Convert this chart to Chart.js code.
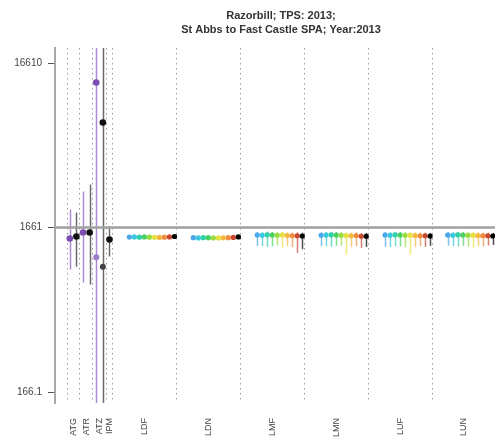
<!DOCTYPE html>
<html><head><meta charset="utf-8">
<script src="https://cdn.jsdelivr.net/npm/chart.js@4.4.0/dist/chart.umd.min.js"></script>
<style>html,body{margin:0;padding:0;background:#fff;overflow:hidden}canvas{display:block}</style>
</head><body>
<canvas id="c" width="499" height="443"></canvas>
<script>
// ---------------- DATA ----------------
const titleLines = ['Razorbill; TPS: 2013;', 'St Abbs to Fast Castle SPA; Year:2013'];
const categories = ['ATG','ATR','ATZ','IPM','LDF','LDN','LMF','LMN','LUF','LUN'];
const yTickValues = [166.1, 1661, 16610];
const referenceValue = 1661;

// single-model estimates (ATG..IPM)
const leftCategory = ['ATG','ATG','ATR','ATR','ATZ','ATZ','IPM'];
const leftModel    = ['purple','black','purple','black','purple','black','black'];
const leftValue    = [1424, 1465, 1548, 1548, 12640, 7220, 1404];
const leftLower    = [922, 960, 769, 748, 100, 100, 1107];
const leftUpper    = [2136, 2050, 2749, 3031, 30000, 30000, 1684];
const leftSecond   = [null, null, null, null, 1097, 960, null];

// multi-model estimates (10 models each)
const ldfValue = [1452, 1455, 1450, 1455, 1450, 1448, 1446, 1450, 1455, 1465];
const ldfLower = [1430, 1432, 1428, 1432, 1428, 1425, 1424, 1428, 1432, 1440];
const ldfUpper = [1475, 1478, 1472, 1478, 1472, 1470, 1468, 1472, 1478, 1490];
const ldnValue = [1440, 1436, 1440, 1440, 1436, 1435, 1438, 1440, 1445, 1455];
const ldnLower = [1418, 1414, 1418, 1418, 1414, 1413, 1416, 1418, 1422, 1432];
const ldnUpper = [1462, 1458, 1462, 1462, 1458, 1457, 1460, 1462, 1468, 1478];
const lmfValue = [1495, 1490, 1500, 1495, 1490, 1495, 1485, 1480, 1480, 1475];
const lmfLower = [1285, 1280, 1265, 1275, 1290, 1250, 1280, 1260, 1165, 1225];
const lmfUpper = [1560, 1555, 1570, 1560, 1555, 1560, 1550, 1545, 1550, 1545];
const lmnValue = [1490, 1495, 1500, 1495, 1490, 1485, 1480, 1485, 1470, 1470];
const lmnLower = [1280, 1275, 1270, 1285, 1290, 1140, 1265, 1280, 1250, 1265];
const lmnUpper = [1555, 1560, 1565, 1560, 1555, 1550, 1545, 1550, 1540, 1540];
const lufValue = [1495, 1490, 1500, 1495, 1490, 1490, 1485, 1480, 1480, 1475];
const lufLower = [1270, 1260, 1280, 1275, 1255, 1140, 1265, 1280, 1265, 1285];
const lufUpper = [1560, 1555, 1565, 1560, 1555, 1555, 1550, 1545, 1545, 1540];
const lunValue = [1495, 1490, 1500, 1495, 1490, 1490, 1485, 1480, 1480, 1475];
const lunLower = [1290, 1280, 1275, 1285, 1270, 1250, 1280, 1275, 1290, 1300];
const lunUpper = [1560, 1555, 1565, 1560, 1555, 1555, 1550, 1545, 1545, 1540];

// ---------------- STYLE / LAYOUT ----------------
const modelColors = ['#4aa8e8','#38c8e0','#30d0a8','#48d060','#98dc40','#e8e040','#f4b840','#f08c40','#c84830','#000000'];
const leftPointColor = {purple:'#7c4db0', black:'#111111'};
const leftBarColor   = {purple:'#a98bd6', black:'#6a6a6a'};
const leftSecondColor= {purple:'#9a7cc8', black:'#444444'};

const X_MAX = 68.5;
const leftStart = 2.3, leftStep = 1.03;
const groupStart = 9.0, groupWidth = 9.95, modelStep = 0.78, lastOffset = 0.35;

const multiGroups = [
  {name:'LDF', val:ldfValue, lo:ldfLower, hi:ldfUpper},
  {name:'LDN', val:ldnValue, lo:ldnLower, hi:ldnUpper},
  {name:'LMF', val:lmfValue, lo:lmfLower, hi:lmfUpper},
  {name:'LMN', val:lmnValue, lo:lmnLower, hi:lmnUpper},
  {name:'LUF', val:lufValue, lo:lufLower, hi:lufUpper},
  {name:'LUN', val:lunValue, lo:lunLower, hi:lunUpper}
];

const leftX = leftValue.map((_, i) => leftStart + i * leftStep);
const groupRight = g => Math.min(groupStart + groupWidth * (g + 1), X_MAX);
const modelX = (g, i) => groupRight(g) - lastOffset - modelStep * (9 - i);

// boundaries between categories
const leftCats = ['ATG','ATR','ATZ','IPM'];
const boundaries = [leftX[0] - 0.4];
leftCats.forEach((c) => {
  const idx = leftCategory.map((cc, i) => cc === c ? i : -1).filter(i => i >= 0);
  const last = idx[idx.length - 1];
  if (last + 1 < leftX.length) boundaries.push((leftX[last] + leftX[last + 1]) / 2);
});
boundaries.push(groupStart);
for (let g = 0; g < multiGroups.length - 1; g++) boundaries.push(groupRight(g));
const allEdges = boundaries.concat([X_MAX]);
const labelX = categories.map((c, k) => (allEdges[k] + allEdges[k + 1]) / 2);

// points
const leftPts = leftValue.map((v, i) => ({x: leftX[i], y: v}));
const leftSecondPts = [];
const leftSecondCols = [];
leftSecond.forEach((v, i) => { if (v !== null) { leftSecondPts.push({x: leftX[i], y: v}); leftSecondCols.push(leftSecondColor[leftModel[i]]); } });
const groupPts = [], groupCols = [];
multiGroups.forEach((g, gi) => g.val.forEach((v, i) => { groupPts.push({x: modelX(gi, i), y: v}); groupCols.push(modelColors[i]); }));

function hexA(hex, a) {
  const n = parseInt(hex.slice(1), 16);
  return `rgba(${(n>>16)&255},${(n>>8)&255},${n&255},${a})`;
}

const decor = {
  id: 'decor',
  beforeDatasetsDraw(chart) {
    const {ctx, chartArea: ca, scales: {x, y}} = chart;
    ctx.save();
    ctx.beginPath(); ctx.rect(ca.left, ca.top, ca.right - ca.left, ca.bottom - ca.top); ctx.clip();
    const bar = (xv, lo, hi, col, w) => {
      const px = Math.round(x.getPixelForValue(xv)) + 0.5;
      ctx.strokeStyle = col; ctx.lineWidth = w;
      ctx.beginPath(); ctx.moveTo(px, y.getPixelForValue(lo)); ctx.lineTo(px, y.getPixelForValue(hi)); ctx.stroke();
    };
    leftValue.forEach((v, i) => bar(leftX[i], leftLower[i], leftUpper[i], leftBarColor[leftModel[i]], 1.5));
    multiGroups.forEach((g, gi) => g.val.forEach((v, i) => bar(modelX(gi, i), g.lo[i], g.hi[i], hexA(modelColors[i], 0.7), 1.5)));
    ctx.restore();
  },
  afterDraw(chart) {
    const {ctx, chartArea: ca, scales: {x}} = chart;
    ctx.save();
    ctx.fillStyle = '#333';
    ctx.font = 'bold 11px "Liberation Sans", Arial, sans-serif';
    ctx.textAlign = 'center'; ctx.textBaseline = 'middle';
    const cx = (ca.left + ca.right) / 2 + 6;
    ctx.fillText(titleLines[0], cx, 16);
    ctx.fillText(titleLines[1], cx, 30);
    ctx.fillStyle = '#444';
    ctx.font = '9px "Liberation Sans", Arial, sans-serif';
    ctx.textAlign = 'right'; ctx.textBaseline = 'middle';
    categories.forEach((c, k) => {
      ctx.save();
      ctx.translate(x.getPixelForValue(labelX[k]), ca.bottom + 15);
      ctx.rotate(-Math.PI / 2);
      ctx.fillText(c, 0, 0);
      ctx.restore();
    });
    ctx.restore();
  }
};

new Chart(document.getElementById('c'), {
  type: 'scatter',
  data: {
    datasets: [
      {type:'line', data:[{x:0, y:referenceValue},{x:X_MAX, y:referenceValue}], borderColor:'#a0a0a0', borderWidth:2.5, pointRadius:0, order:5},
      {data: leftSecondPts, pointBackgroundColor: leftSecondCols, pointBorderWidth:0, pointRadius:3, order:3},
      {data: leftPts, pointBackgroundColor: leftModel.map(m => leftPointColor[m]), pointBorderWidth:0, pointRadius:3.3, order:2},
      {data: groupPts, pointBackgroundColor: groupCols, pointBorderWidth:0, pointRadius:2.6, order:1}
    ]
  },
  options: {
    responsive:false, animation:false, devicePixelRatio:1,
    layout:{padding:{top:48, right:2, bottom:0, left:0}},
    plugins:{legend:{display:false}, tooltip:{enabled:false}, title:{display:false}},
    scales:{
      x:{type:'linear', min:0, max:X_MAX,
        afterBuildTicks: s => { s.ticks = boundaries.map(v => ({value:v})); },
        afterFit: s => { s.height = 40; },
        ticks:{display:false},
        grid:{color:'#9a9a9a', lineWidth:1, drawTicks:false, drawOnChartArea:true},
        border:{display:false, dash:[1.5,3.5]}
      },
      y:{type:'logarithmic', min:142.4, max:20496, position:'left',
        afterBuildTicks: s => { s.ticks = yTickValues.map(v => ({value:v})); },
        afterFit: s => { s.width = 55; },
        ticks:{callback: v => String(v), font:{size:10, family:'"Liberation Sans", Arial, sans-serif'}, color:'#444', padding:6, autoSkip:false},
        grid:{drawOnChartArea:false, drawTicks:true, tickLength:7, tickColor:'#555', tickWidth:1},
        border:{color:'#a8a8a8', width:2}
      }
    }
  },
  plugins:[decor]
});
</script>
</body></html>
